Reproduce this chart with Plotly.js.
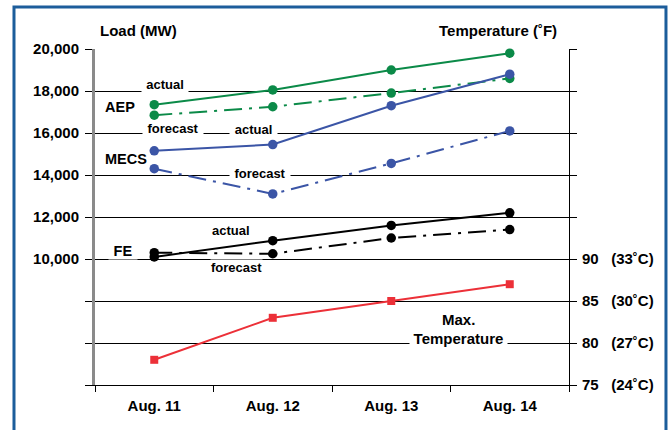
<!DOCTYPE html>
<html>
<head>
<meta charset="utf-8">
<script src="https://cdn.plot.ly/plotly-3.0.1.min.js"></script>
<style>html,body{margin:0;padding:0;background:#fff;}#chart{width:669px;height:430px;}</style>
</head>
<body>
<div id="chart"></div>
<script>
// ---- data ----
const days = ["Aug. 11", "Aug. 12", "Aug. 13", "Aug. 14"];
const aepActual = [17350, 18050, 19000, 19800];
const aepForecast = [16850, 17250, 17900, 18600];
const mecsActual = [15150, 15450, 17300, 18800];
const mecsForecast = [14300, 13100, 14550, 16100];
const feActual = [10100, 10870, 11600, 12200];
const feForecast = [10300, 10250, 11000, 11400];
const maxTemp = [78, 83, 85, 87];
const loadTickVals = [4000, 6000, 8000, 10000, 12000, 14000, 16000, 18000, 20000];
const loadTickText = ["", "", "", "10,000", "12,000", "14,000", "16,000", "18,000", "20,000"];
const tempTickVals = [75, 80, 85, 90, 95, 100, 105, 110, 115];
const tempTickText = ["75\u00A0\u00A0\u00A0(24˚C)", "80\u00A0\u00A0\u00A0(27˚C)", "85\u00A0\u00A0\u00A0(30˚C)", "90\u00A0\u00A0\u00A0(33˚C)", "", "", "", "", ""];

const FONT = "Liberation Sans, Arial, Helvetica, sans-serif";
const GREEN = "#0b8a48", BLUE = "#3b55a6", BLACK = "#000000", RED = "#ec3038";
const DASHDOT = "18px,7px,3px,7px";

function series(y, color, dash, yaxis, symbol, size) {
  return {
    x: days, y: y, type: "scatter", mode: "lines+markers", yaxis: yaxis || "y",
    line: {color: color, width: 2, dash: dash || "solid"},
    marker: {color: color, size: size || 9.5, symbol: symbol || "circle"},
    hoverinfo: "skip", showlegend: false, cliponaxis: false
  };
}

const traces = [
  series(aepForecast, GREEN, DASHDOT),
  series(aepActual, GREEN),
  series(mecsForecast, BLUE, DASHDOT),
  series(mecsActual, BLUE),
  series(feForecast, BLACK, DASHDOT),
  series(feActual, BLACK),
  series(maxTemp, RED, "solid", "y2", "square", 8)
];

function lab(text, x, y, size, width) {
  const a = {
    text: text, x: x, y: y, xref: "x", yref: "y", showarrow: false,
    font: {family: FONT, size: size, color: "#000", weight: "bold"},
    bgcolor: "#ffffff", borderpad: 0, xanchor: "center", yanchor: "middle"
  };
  if (width) a.width = width;
  return a;
}

const annotations = [
  lab("actual", 0.090, 18333, 13, 46),
  lab("AEP", -0.293, 17219, 14.5),
  lab("forecast", 0.154, 16205, 13, 60),
  lab("actual", 0.836, 16190, 13, 47),
  lab("MECS", -0.240, 14762, 14.5),
  lab("forecast", 0.892, 14048, 13, 60),
  lab("actual", 0.648, 11362, 13),
  lab("FE", -0.262, 10362, 14.5, 28),
  lab("forecast", 0.692, 9600, 13),
  lab("Max.", 2.570, 7110, 15),
  lab("Temperature", 2.566, 6238, 15, 97),
  {text: "Load (MW)", x: -0.129, y: 1.0536, xref: "x", yref: "paper", showarrow: false,
   font: {family: FONT, size: 15, color: "#000", weight: "bold"}, xanchor: "center", yanchor: "middle"},
  {text: "Temperature (˚F)", x: 2.901, y: 1.0536, xref: "x", yref: "paper", showarrow: false,
   font: {family: FONT, size: 15, color: "#000", weight: "bold"}, xanchor: "center", yanchor: "middle"}
];

const layout = {
  width: 669, height: 430,
  margin: {l: 95, r: 100, t: 49, b: 45, pad: 0},
  paper_bgcolor: "#ffffff", plot_bgcolor: "#ffffff",
  font: {family: FONT, color: "#000"},
  showlegend: false, hovermode: false,
  xaxis: {
    type: "category", range: [-0.5, 3.5], tickson: "boundaries",
    ticks: "outside", ticklen: 6, tickcolor: "#000", tickwidth: 1,
    showline: true, linecolor: "#000", linewidth: 1, showgrid: false, zeroline: false,
    tickfont: {family: FONT, size: 15, color: "#000", weight: "bold"}, ticklabelstandoff: 7
  },
  yaxis: {
    range: [4000, 20000], tickvals: loadTickVals, ticktext: loadTickText,
    ticks: "outside", ticklen: 7, tickcolor: "#000", tickwidth: 1,
    showline: true, linecolor: "#8a8a8a", linewidth: 3,
    showgrid: true, gridcolor: "#000", gridwidth: 1, zeroline: false,
    tickfont: {family: FONT, size: 15, color: "#000", weight: "bold"}, ticklabelstandoff: 3
  },
  yaxis2: {
    range: [75, 115], overlaying: "y", side: "right", tickvals: tempTickVals, ticktext: tempTickText,
    ticks: "outside", ticklen: 7, tickcolor: "#000", tickwidth: 1,
    showline: true, linecolor: "#000", linewidth: 1, showgrid: false, zeroline: false,
    tickfont: {family: FONT, size: 15, color: "#000", weight: "bold"}, ticklabelstandoff: 2
  },
  shapes: [{
    type: "rect", xref: "paper", yref: "paper",
    x0: -0.1709, x1: 1.2046, y0: -0.2, y1: 1.125,
    line: {color: "#1c5d9b", width: 3}, fillcolor: "rgba(0,0,0,0)", layer: "above"
  }],
  annotations: annotations
};

Plotly.newPlot("chart", traces, layout, {staticPlot: true, displayModeBar: false});
</script>
</body>
</html>
